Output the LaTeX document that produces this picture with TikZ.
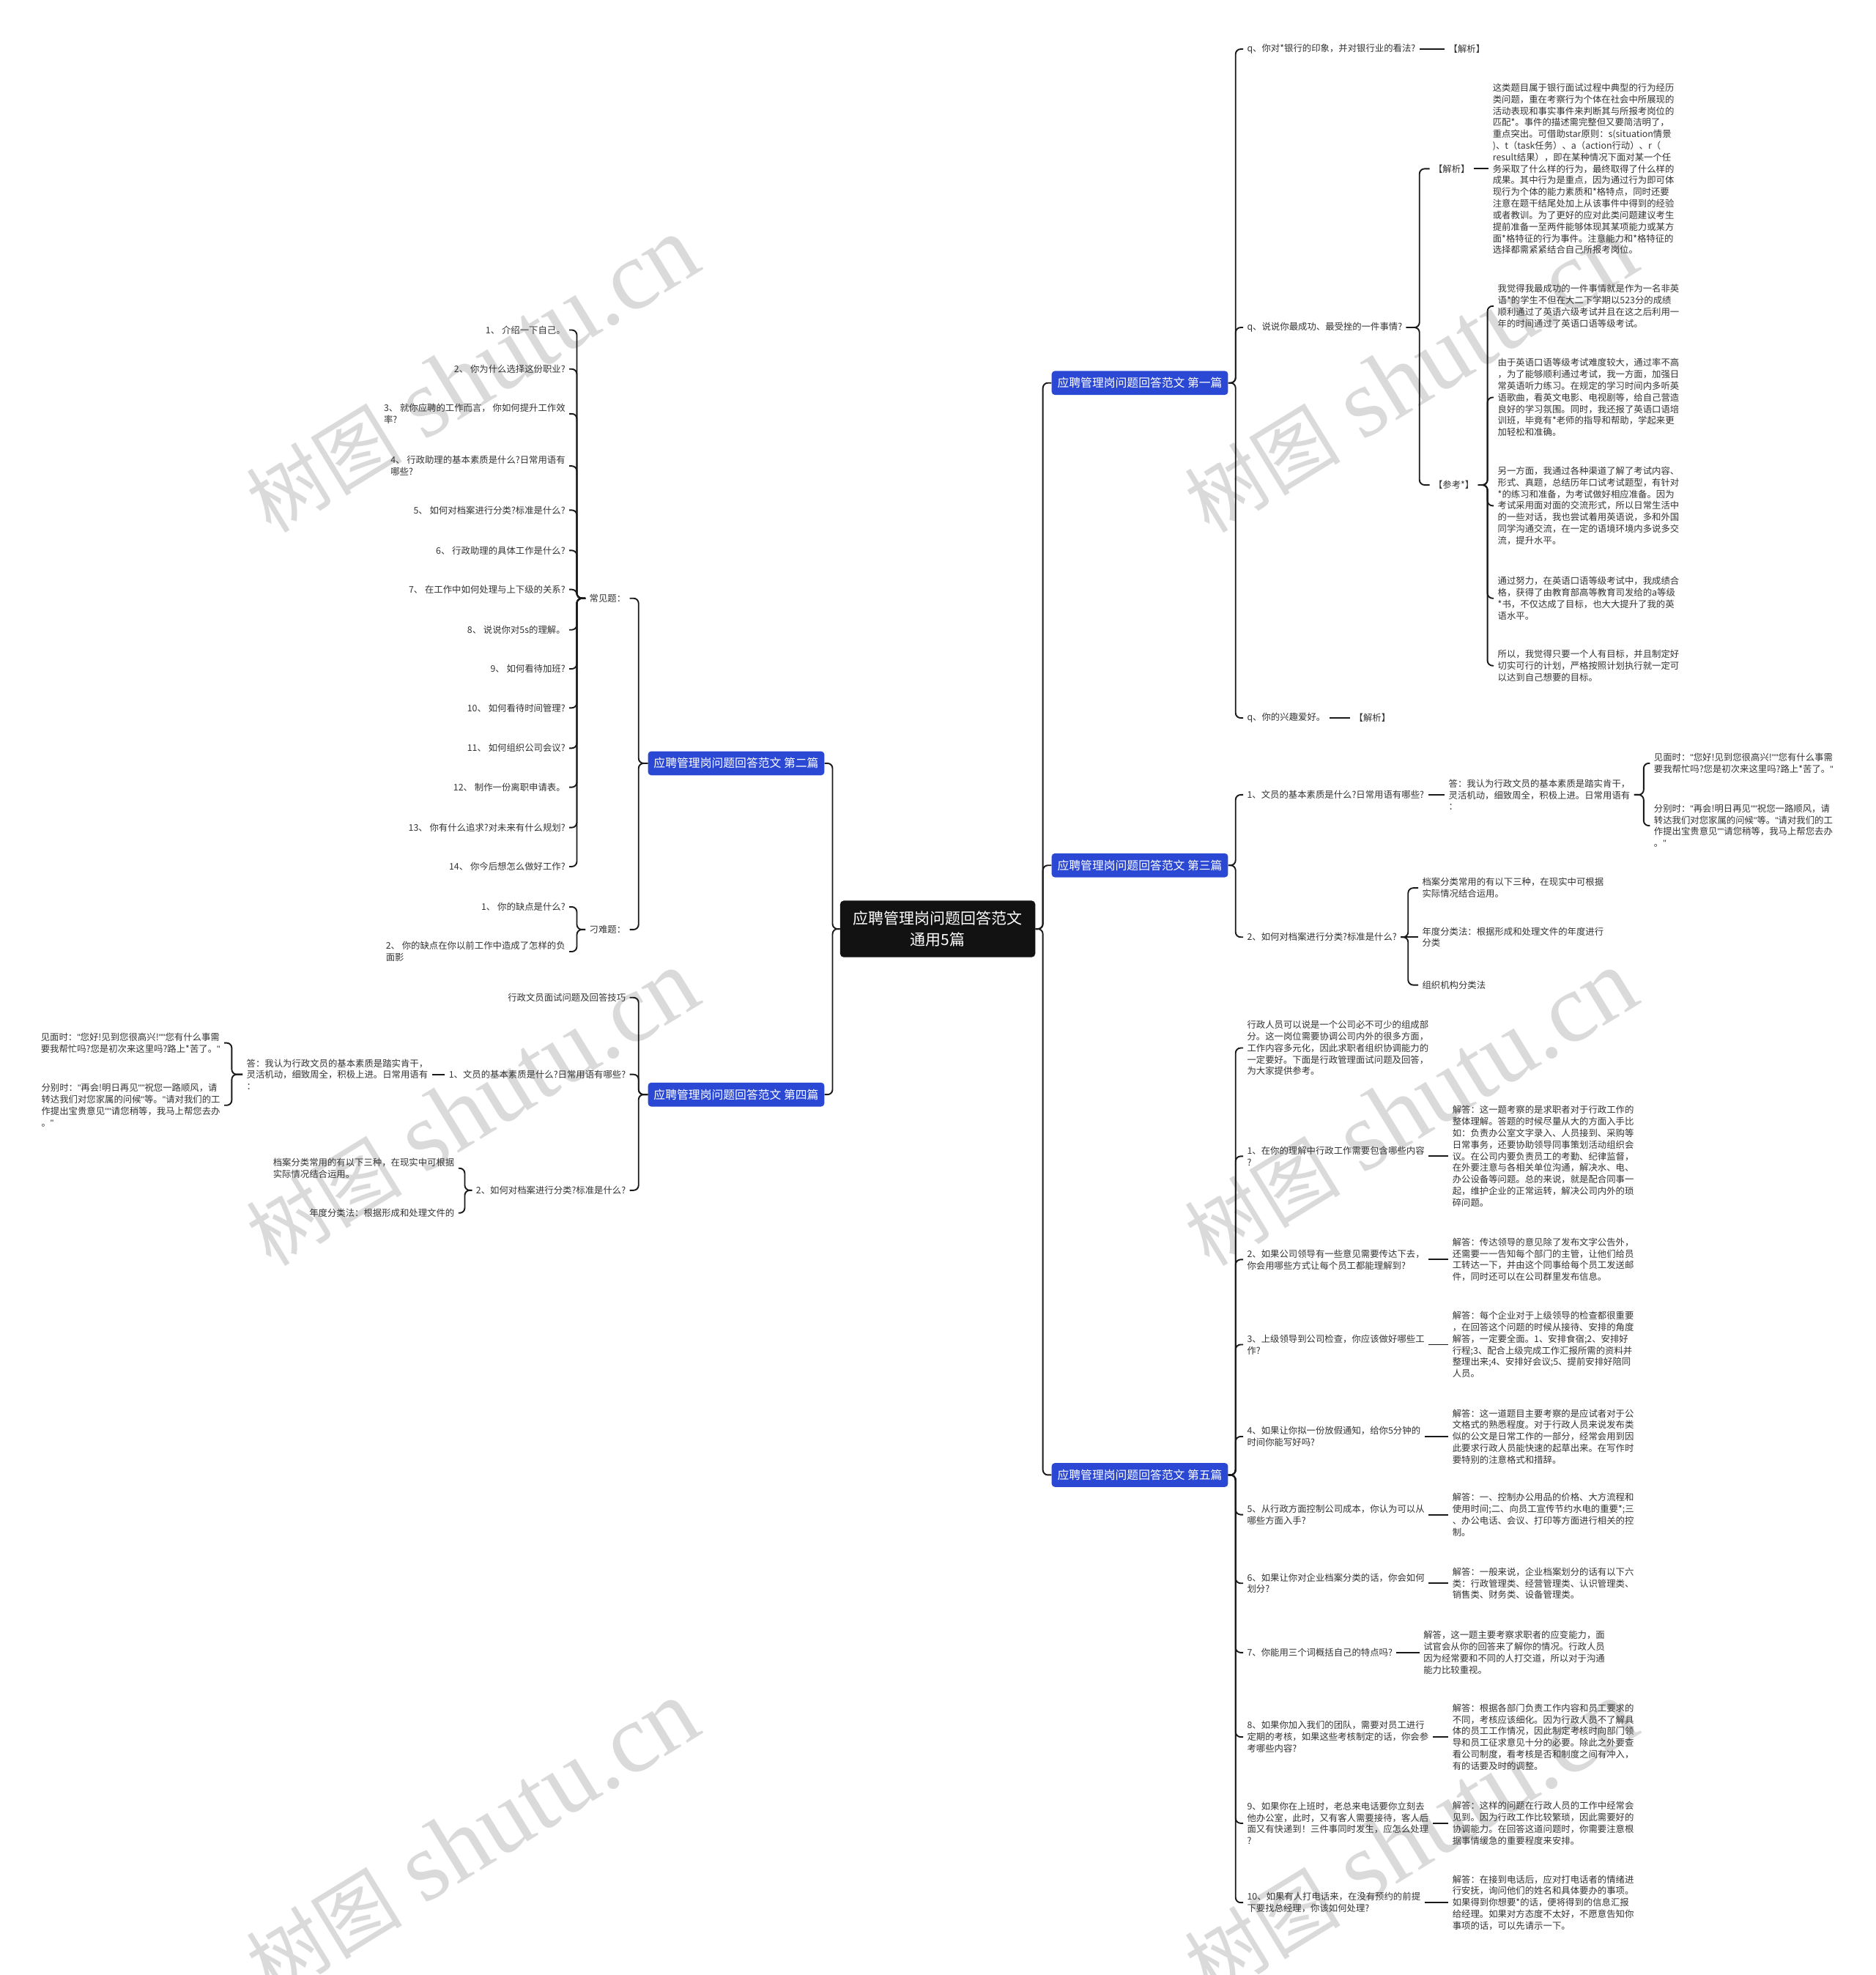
\documentclass[tikz,border=0pt]{standalone}
\usepackage{fontspec}
\setmainfont{Noto Sans CJK SC}
\newfontfamily\wmfont{Liberation Serif}
\newfontfamily\qfont{Liberation Sans}
\newcommand\dq{{\qfont"}}
\definecolor{brandblue}{HTML}{2A48D4}
\definecolor{rootblack}{HTML}{121212}
\definecolor{txtgray}{HTML}{333333}
\definecolor{wmgray}{HTML}{DADADA}
\tikzset{
  txt/.style={font=\fontsize{7.2}{9.2}\selectfont, inner xsep=3pt, inner ysep=1pt, align=left, text=txtgray},
  rt/.style={txt, anchor=west},
  lt/.style={txt, anchor=east},
  branch/.style={fill=brandblue, text=white, rounded corners=2.5pt, minimum width=140pt, minimum height=19pt, inner sep=0pt, font=\fontsize{9.2}{11}\selectfont},
  rootnode/.style={fill=rootblack, text=white, rounded corners=3pt, minimum width=155pt, minimum height=45pt, inner sep=0pt, align=center, font=\fontsize{12.2}{17}\selectfont},
  conn/.style={line width=1.1pt, rounded corners=4pt, draw=black!90},
  wm/.style={rotate=31.5, text=wmgray, inner sep=0pt}
}
\newcommand\rlink[3]{\draw[conn] (#1.east) -- (#1.east -| #3) |- (#2.west);}
\newcommand\llink[3]{\draw[conn] (#1.west) -- (#1.west -| #3) |- (#2.east);}
\newcommand\slink[2]{\draw[conn] (#1.east) -- (#2.west);}
\newcommand\sllink[2]{\draw[conn] (#1.west) -- (#2.east);}
\begin{document}
\begin{tikzpicture}[x=1pt,y=-1pt]
\useasboundingbox (0,0) rectangle (1489,1568);
\fill[white] (0,0) rectangle (1489,1568);
% watermarks
\foreach \wx/\wy in {375/298, 1120/298, 375/880, 1120/880, 375/1460, 1120/1460} {
  \node[wm] (wm-\wx-\wy) at (\wx,\wy) {{\fontsize{62}{62}\selectfont 树图}\hspace{18pt}{\wmfont\fontsize{78}{78}\selectfont shutu.cn}};
}
% root and branches
\node[rootnode] (root) at (744.5,737.5) {应聘管理岗问题回答范文\\通用5篇};
\node[branch] (b1) at (905,304) {应聘管理岗问题回答范文 第一篇};
\node[branch] (b3) at (905,687) {应聘管理岗问题回答范文 第三篇};
\node[branch] (b5) at (905,1171) {应聘管理岗问题回答范文 第五篇};
\node[branch] (b2) at (584.5,606) {应聘管理岗问题回答范文 第二篇};
\node[branch] (b4) at (584.5,869) {应聘管理岗问题回答范文 第四篇};
\coordinate (vR) at (828,0);
\coordinate (vL) at (661,0);
\rlink{root}{b1}{vR}
\rlink{root}{b3}{vR}
\rlink{root}{b5}{vR}
\llink{root}{b2}{vL}
\llink{root}{b4}{vL}

% ---------- 第一篇 ----------
\node[rt] (a1) at (987,39) {q、你对*银行的印象，并对银行业的看法?};
\node[rt] (a1x) at (1147,39) {【解析】};
\node[rt] (a2) at (987,260) {q、说说你最成功、最受挫的一件事情?};
\node[rt] (a2x) at (1135,134) {【解析】};
\node[rt] (a2xp) at (1182,134) {这类题目属于银行面试过程中典型的行为经历\\类问题，重在考察行为个体在社会中所展现的\\活动表现和事实事件来判断其与所报考岗位的\\匹配*。事件的描述需完整但又要简洁明了，\\重点突出。可借助star原则：s(situation情景\\)、t（task任务）、a（action行动）、r（\\result结果），即在某种情况下面对某一个任\\务采取了什么样的行为，最终取得了什么样的\\成果。其中行为是重点，因为通过行为即可体\\现行为个体的能力素质和*格特点，同时还要\\注意在题干结尾处加上从该事件中得到的经验\\或者教训。为了更好的应对此类问题建议考生\\提前准备一至两件能够体现其某项能力或某方\\面*格特征的行为事件。注意能力和*格特征的\\选择都需紧紧结合自己所报考岗位。};
\node[rt] (a2y) at (1135,385) {【参考*】};
\node[rt] (p1) at (1186,243) {我觉得我最成功的一件事情就是作为一名非英\\语*的学生不但在大二下学期以523分的成绩\\顺利通过了英语六级考试并且在这之后利用一\\年的时间通过了英语口语等级考试。};
\node[rt] (p2) at (1186,315.5) {由于英语口语等级考试难度较大，通过率不高\\，为了能够顺利通过考试，我一方面，加强日\\常英语听力练习。在规定的学习时间内多听英\\语歌曲，看英文电影、电视剧等，给自己营造\\良好的学习氛围。同时，我还报了英语口语培\\训班，毕竟有*老师的指导和帮助，学起来更\\加轻松和准确。};
\node[rt] (p3) at (1186,401.5) {另一方面，我通过各种渠道了解了考试内容、\\形式、真题，总结历年口试考试题型，有针对\\*的练习和准备，为考试做好相应准备。因为\\考试采用面对面的交流形式，所以日常生活中\\的一些对话，我也尝试着用英语说，多和外国\\同学沟通交流，在一定的语境环境内多说多交\\流，提升水平。};
\node[rt] (p4) at (1186,475) {通过努力，在英语口语等级考试中，我成绩合\\格，获得了由教育部高等教育司发给的a等级\\*书，不仅达成了目标，也大大提升了我的英\\语水平。};
\node[rt] (p5) at (1186,528.5) {所以，我觉得只要一个人有目标，并且制定好\\切实可行的计划，严格按照计划执行就一定可\\以达到自己想要的目标。};
\node[rt] (a3) at (987,570) {q、你的兴趣爱好。};
\node[rt] (a3x) at (1072,570) {【解析】};
\coordinate (v1) at (981,0);
\coordinate (v1b) at (1127,0);
\coordinate (v1c) at (1181,0);
\rlink{b1}{a1}{v1}
\rlink{b1}{a2}{v1}
\rlink{b1}{a3}{v1}
\slink{a1}{a1x}
\slink{a3}{a3x}
\rlink{a2}{a2x}{v1b}
\rlink{a2}{a2y}{v1b}
\slink{a2x}{a2xp}
\rlink{a2y}{p1}{v1c}
\rlink{a2y}{p2}{v1c}
\rlink{a2y}{p3}{v1c}
\rlink{a2y}{p4}{v1c}
\rlink{a2y}{p5}{v1c}

% ---------- 第三篇 ----------
\node[rt] (c1) at (987,631) {1、文员的基本素质是什么?日常用语有哪些?};
\node[rt] (c1a) at (1147,631) {答：我认为行政文员的基本素质是踏实肯干，\\灵活机动，细致周全，积极上进。日常用语有\\：};
\node[rt] (c1a1) at (1310,606) {见面时：\dq 您好!见到您很高兴!\dq\dq 您有什么事需\\要我帮忙吗?您是初次来这里吗?路上*苦了。\dq};
\node[rt] (c1a2) at (1310,655.5) {分别时：\dq 再会!明日再见\dq\dq 祝您一路顺风，请\\转达我们对您家属的问候\dq 等。\dq 请对我们的工\\作提出宝贵意见\dq\dq 请您稍等，我马上帮您去办\\。\dq};
\node[rt] (c2) at (987,744) {2、如何对档案进行分类?标准是什么?};
\node[rt] (c2a) at (1126,705) {档案分类常用的有以下三种，在现实中可根据\\实际情况结合运用。};
\node[rt] (c2b) at (1126,744) {年度分类法：根据形成和处理文件的年度进行\\分类};
\node[rt] (c2c) at (1126,782) {组织机构分类法};
\coordinate (v3a) at (1305,0);
\coordinate (v3b) at (1118,0);
\rlink{b3}{c1}{v1}
\rlink{b3}{c2}{v1}
\slink{c1}{c1a}
\rlink{c1a}{c1a1}{v3a}
\rlink{c1a}{c1a2}{v3a}
\rlink{c2}{c2a}{v3b}
\slink{c2}{c2b}
\rlink{c2}{c2c}{v3b}

% ---------- 第五篇 ----------
\node[rt] (e0) at (987,832) {行政人员可以说是一个公司必不可少的组成部\\分。这一岗位需要协调公司内外的很多方面，\\工作内容多元化，因此求职者组织协调能力的\\一定要好。下面是行政管理面试问题及回答，\\为大家提供参考。};
\node[rt] (e1) at (987,918) {1、在你的理解中行政工作需要包含哪些内容\\?};
\node[rt] (e1a) at (1150,918) {解答：这一题考察的是求职者对于行政工作的\\整体理解。答题的时候尽量从大的方面入手比\\如：负责办公室文字录入、人员接到、采购等\\日常事务，还要协助领导同事策划活动组织会\\议。在公司内要负责员工的考勤、纪律监督，\\在外要注意与各相关单位沟通，解决水、电、\\办公设备等问题。总的来说，就是配合同事一\\起，维护企业的正常运转，解决公司内外的琐\\碎问题。};
\node[rt] (e2) at (987,1000) {2、如果公司领导有一些意见需要传达下去，\\你会用哪些方式让每个员工都能理解到?};
\node[rt] (e2a) at (1150,1000) {解答：传达领导的意见除了发布文字公告外，\\还需要一一告知每个部门的主管，让他们给员\\工转达一下，并由这个同事给每个员工发送邮\\件，同时还可以在公司群里发布信息。};
\node[rt] (e3) at (987,1067.5) {3、上级领导到公司检查，你应该做好哪些工\\作?};
\node[rt] (e3a) at (1150,1067.5) {解答：每个企业对于上级领导的检查都很重要\\，在回答这个问题的时候从接待、安排的角度\\解答，一定要全面。1、安排食宿;2、安排好\\行程;3、配合上级完成工作汇报所需的资料并\\整理出来;4、安排好会议;5、提前安排好陪同\\人员。};
\node[rt] (e4) at (987,1140.5) {4、如果让你拟一份放假通知，给你5分钟的\\时间你能写好吗?};
\node[rt] (e4a) at (1150,1140.5) {解答：这一道题目主要考察的是应试者对于公\\文格式的熟悉程度。对于行政人员来说发布类\\似的公文是日常工作的一部分，经常会用到因\\此要求行政人员能快速的起草出来。在写作时\\要特别的注意格式和措辞。};
\node[rt] (e5) at (987,1202.5) {5、从行政方面控制公司成本，你认为可以从\\哪些方面入手?};
\node[rt] (e5a) at (1150,1202.5) {解答：一、控制办公用品的价格、大方流程和\\使用时间;二、向员工宣传节约水电的重要*;三\\、办公电话、会议、打印等方面进行相关的控\\制。};
\node[rt] (e6) at (987,1257) {6、如果让你对企业档案分类的话，你会如何\\划分?};
\node[rt] (e6a) at (1150,1257) {解答：一般来说，企业档案划分的话有以下六\\类：行政管理类、经营管理类、认识管理类、\\销售类、财务类、设备管理类。};
\node[rt] (e7) at (987,1312) {7、你能用三个词概括自己的特点吗?};
\node[rt] (e7a) at (1127,1312) {解答，这一题主要考察求职者的应变能力，面\\试官会从你的回答来了解你的情况。行政人员\\因为经常要和不同的人打交道，所以对于沟通\\能力比较重视。};
\node[rt] (e8) at (987,1379) {8、如果你加入我们的团队，需要对员工进行\\定期的考核，如果这些考核制定的话，你会参\\考哪些内容?};
\node[rt] (e8a) at (1150,1379) {解答：根据各部门负责工作内容和员工要求的\\不同，考核应该细化。因为行政人员不了解具\\体的员工工作情况，因此制定考核时向部门领\\导和员工征求意见十分的必要。除此之外要查\\看公司制度，看考核是否和制度之间有冲入，\\有的话要及时的调整。};
\node[rt] (e9) at (987,1447.5) {9、如果你在上班时，老总来电话要你立刻去\\他办公室，此时，又有客人需要接待，客人后\\面又有快递到！三件事同时发生，应怎么处理\\?};
\node[rt] (e9a) at (1150,1447.5) {解答：这样的问题在行政人员的工作中经常会\\见到。因为行政工作比较繁琐，因此需要好的\\协调能力。在回答这道问题时，你需要注意根\\据事情缓急的重要程度来安排。};
\node[rt] (e10) at (987,1510.5) {10、如果有人打电话来，在没有预约的前提\\下要找总经理，你该如何处理?};
\node[rt] (e10a) at (1150,1510.5) {解答：在接到电话后，应对打电话者的情绪进\\行安抚，询问他们的姓名和具体要办的事项。\\如果得到你想要*的话，便将得到的信息汇报\\给经理。如果对方态度不太好，不愿意告知你\\事项的话，可以先请示一下。};
\foreach \n in {e0,e1,e2,e3,e4,e5,e6,e7,e8,e9,e10} { \rlink{b5}{\n}{v1} }
\foreach \n in {e1,e2,e3,e4,e5,e6,e7,e8,e9,e10} { \slink{\n}{\n a} }

% ---------- 第二篇 ----------
\node[lt] (k1) at (500,475) {常见题：};
\node[lt] (k2) at (500,738) {刁难题：};
\node[lt] (i1) at (452,262) {1、 介绍一下自己。};
\node[lt] (i2) at (452,293) {2、 你为什么选择这份职业?};
\node[lt] (i3) at (452,328.5) {3、 就你应聘的工作而言， 你如何提升工作效\\率?};
\node[lt] (i4) at (452,370) {4、 行政助理的基本素质是什么?日常用语有\\哪些?};
\node[lt] (i5) at (452,405) {5、 如何对档案进行分类?标准是什么?};
\node[lt] (i6) at (452,437) {6、 行政助理的具体工作是什么?};
\node[lt] (i7) at (452,468) {7、 在工作中如何处理与上下级的关系?};
\node[lt] (i8) at (452,500) {8、 说说你对5s的理解。};
\node[lt] (i9) at (452,531) {9、 如何看待加班?};
\node[lt] (i10) at (452,562) {10、 如何看待时间管理?};
\node[lt] (i11) at (452,594) {11、 如何组织公司会议?};
\node[lt] (i12) at (452,625) {12、 制作一份离职申请表。};
\node[lt] (i13) at (452,657) {13、 你有什么追求?对未来有什么规划?};
\node[lt] (i14) at (452,688) {14、 你今后想怎么做好工作?};
\node[lt] (j1) at (452,720) {1、 你的缺点是什么?};
\node[lt] (j2) at (452,755.5) {2、 你的缺点在你以前工作中造成了怎样的负\\面影};
\coordinate (v2) at (507,0);
\coordinate (v2a) at (458,0);
\llink{b2}{k1}{v2}
\llink{b2}{k2}{v2}
\foreach \n in {i1,i2,i3,i4,i5,i6,i7,i8,i9,i10,i11,i12,i13,i14} { \llink{k1}{\n}{v2a} }
\llink{k2}{j1}{v2a}
\llink{k2}{j2}{v2a}

% ---------- 第四篇 ----------
\node[lt] (m0) at (500,792) {行政文员面试问题及回答技巧};
\node[lt] (m1) at (500,853) {1、文员的基本素质是什么?日常用语有哪些?};
\node[lt] (m1a) at (343,853) {答：我认为行政文员的基本素质是踏实肯干，\\灵活机动，细致周全，积极上进。日常用语有\\：};
\node[lt] (m1a1) at (178,828) {见面时：\dq 您好!见到您很高兴!\dq\dq 您有什么事需\\要我帮忙吗?您是初次来这里吗?路上*苦了。\dq};
\node[lt] (m1a2) at (178,877.5) {分别时：\dq 再会!明日再见\dq\dq 祝您一路顺风，请\\转达我们对您家属的问候\dq 等。\dq 请对我们的工\\作提出宝贵意见\dq\dq 请您稍等，我马上帮您去办\\。\dq};
\node[lt] (m2) at (500,945) {2、如何对档案进行分类?标准是什么?};
\node[lt] (m2a) at (364,927.5) {档案分类常用的有以下三种，在现实中可根据\\实际情况结合运用。};
\node[lt] (m2b) at (364,963) {年度分类法：根据形成和处理文件的};
\coordinate (v4a) at (184,0);
\coordinate (v4b) at (369,0);
\llink{b4}{m0}{v2}
\llink{b4}{m1}{v2}
\llink{b4}{m2}{v2}
\sllink{m1}{m1a}
\llink{m1a}{m1a1}{v4a}
\llink{m1a}{m1a2}{v4a}
\llink{m2}{m2a}{v4b}
\llink{m2}{m2b}{v4b}
\end{tikzpicture}
\end{document}
